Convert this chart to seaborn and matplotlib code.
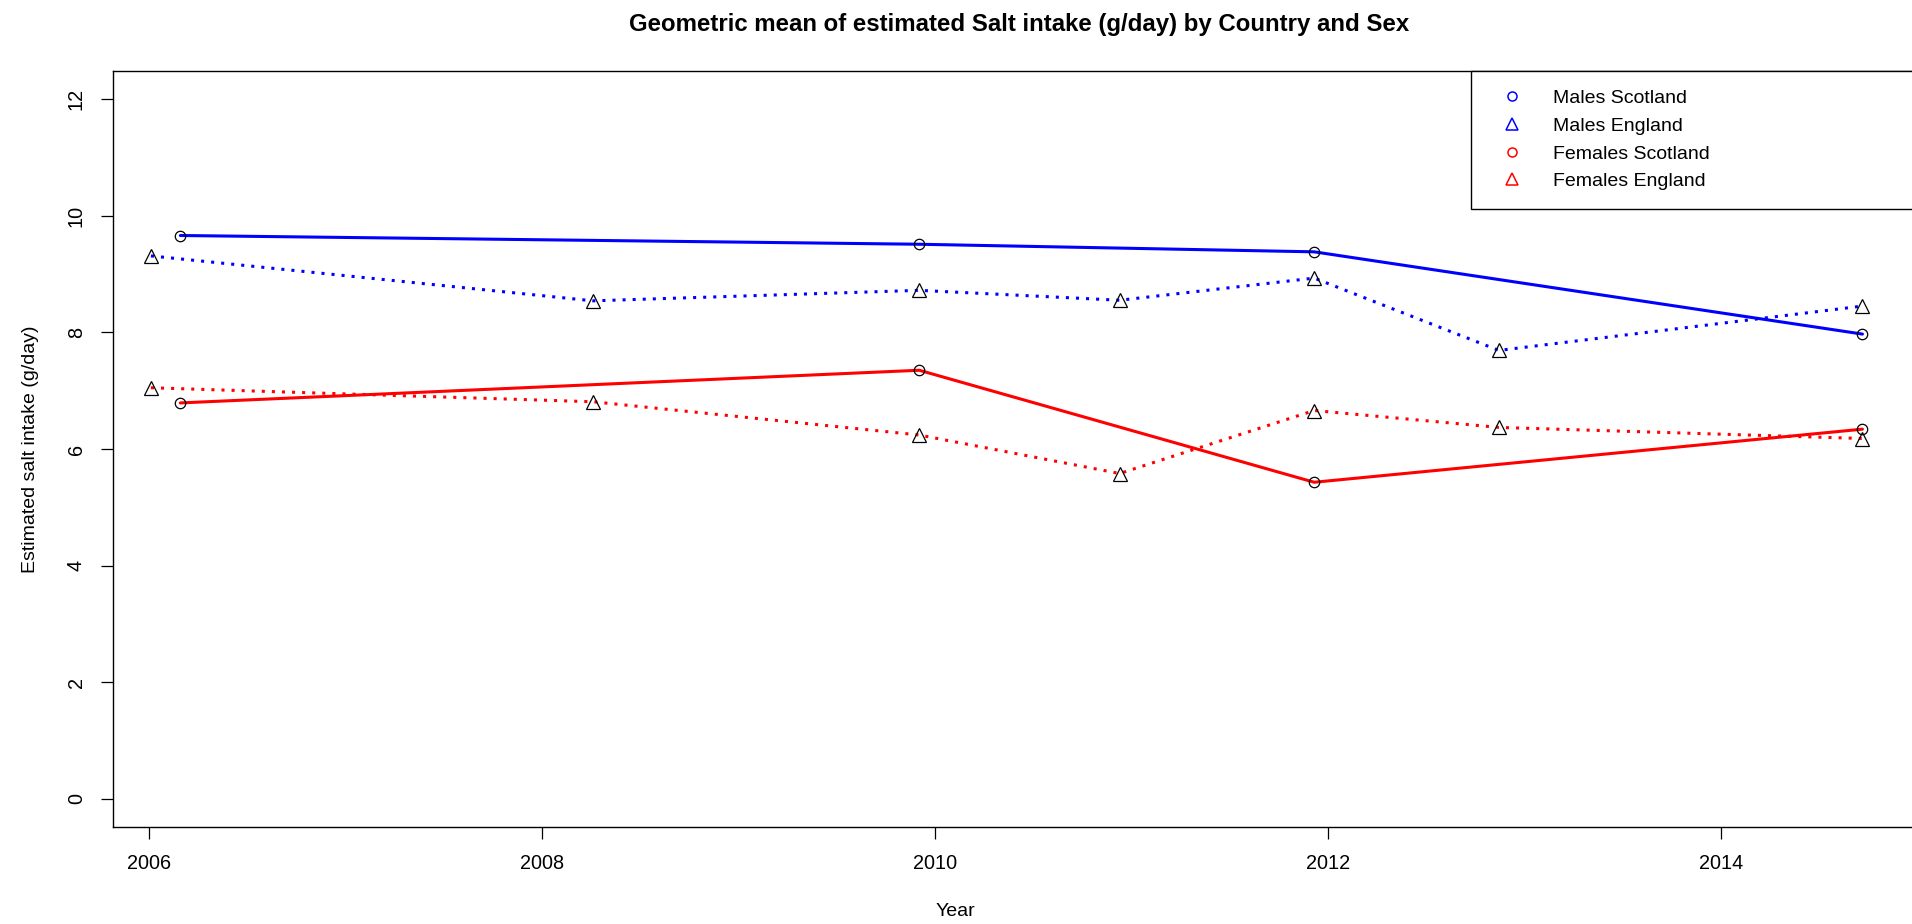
import numpy as np
import pandas as pd
import matplotlib
matplotlib.use("Agg")
import matplotlib.pyplot as plt
import seaborn as sns
from matplotlib.lines import Line2D

# ---------------- data ----------------
years_scotland = [2006.16, 2009.92, 2011.93, 2014.72]
years_england = [2006.01, 2008.26, 2009.92, 2010.94, 2011.93, 2012.87, 2014.72]
males_scotland = [9.66, 9.51, 9.38, 7.97]
females_scotland = [6.79, 7.35, 5.43, 6.34]
males_england = [9.31, 8.54, 8.72, 8.55, 8.93, 7.69, 8.45]
females_england = [7.05, 6.81, 6.24, 5.58, 6.66, 6.37, 6.18]
series_labels = ["Males Scotland", "Males England", "Females Scotland", "Females England"]
x_ticks = [2006, 2008, 2010, 2012, 2014]
y_ticks = [0, 2, 4, 6, 8, 10, 12]
title = "Geometric mean of estimated Salt intake (g/day) by Country and Sex"
x_label = "Year"
y_label = "Estimated salt intake (g/day)"

frames = []
for lab, xs, ys in [
    (series_labels[0], years_scotland, males_scotland),
    (series_labels[1], years_england, males_england),
    (series_labels[2], years_scotland, females_scotland),
    (series_labels[3], years_england, females_england),
]:
    frames.append(pd.DataFrame({"Year": xs, "Salt": ys, "Series": lab}))
df = pd.concat(frames, ignore_index=True)

styles = {
    "Males Scotland": dict(color="#0000FF", ls="-", marker="o"),
    "Males England": dict(color="#0000FF", ls=(0, (1, 2.3)), marker="^"),
    "Females Scotland": dict(color="#FF0000", ls="-", marker="o"),
    "Females England": dict(color="#FF0000", ls=(0, (1, 2.3)), marker="^"),
}

# ---------------- figure ----------------
sns.set_theme(style="white")
plt.rcParams["font.family"] = ["Liberation Sans", "DejaVu Sans"]

W, H = 1912, 924
fig = plt.figure(figsize=(W / 100, H / 100), dpi=100)
ax_left, ax_right, ax_top, ax_bottom = 113, 1925, 71, 827
ax = fig.add_axes([ax_left / W, (H - ax_bottom) / H, (ax_right - ax_left) / W, (ax_bottom - ax_top) / H])

for lab in series_labels:
    st = styles[lab]
    sub = df[df["Series"] == lab]
    ms = 7.5 if st["marker"] == "o" else 9.5
    sns.lineplot(data=sub, x="Year", y="Salt", ax=ax, color=st["color"], linestyle=st["ls"],
                 linewidth=2.2, marker=st["marker"], markersize=ms, markerfacecolor="none",
                 markeredgecolor="black", markeredgewidth=0.9, estimator=None, sort=False,
                 legend=False)

ax.set_xlim(2005.817, 2005.817 + (ax_right - ax_left) / 196.5)
ax.set_ylim(-0.48, 12.48)
ax.set_xticks(x_ticks)
ax.set_xticklabels([str(t) for t in x_ticks])
ax.set_yticks(y_ticks)
ax.set_yticklabels([str(t) for t in y_ticks], rotation=90, va="center")

for s in ax.spines.values():
    s.set_color("black")
    s.set_linewidth(1.0)
ax.tick_params(axis="both", direction="out", length=8.6, width=0.9, color="black",
               labelsize=14.3, labelcolor="black", pad=11, bottom=True, left=True)

ax.set_xlabel(x_label, fontsize=14, color="black")
ax.set_ylabel(y_label, fontsize=14, color="black")
ax.xaxis.set_label_coords((955 - ax_left) / (ax_right - ax_left), -(911 - ax_bottom) / (ax_bottom - ax_top))
ax.xaxis.label.set_va("center")
ax.yaxis.set_label_coords(-(ax_left - 30) / (ax_right - ax_left), (ax_bottom - 449) / (ax_bottom - ax_top))
ax.yaxis.label.set_va("center")

fig.text((ax_left + ax_right) / 2 / W, 1 - 25 / H, title, ha="center", va="center",
         fontsize=17.3, fontweight="bold", color="black")

# legend (markers only, coloured)
handles = []
for lab in series_labels:
    st = styles[lab]
    handles.append(Line2D([], [], linestyle="none", marker=st["marker"],
                          markersize=6.5 if st["marker"] == "o" else 9,
                          markerfacecolor="none", markeredgecolor=st["color"], markeredgewidth=1.1))
leg_x0 = (1471 - ax_left) / (ax_right - ax_left)
leg = ax.legend(handles, series_labels, loc="upper right",
                bbox_to_anchor=(leg_x0, 0, 1 - leg_x0, 1), mode="expand", borderaxespad=0,
                fontsize=14, frameon=True, fancybox=False, handlelength=2.35,
                handletextpad=0.92, borderpad=0.95, labelspacing=0.52, labelcolor="black")
leg.get_frame().set_edgecolor("black")
leg.get_frame().set_linewidth(1.0)
leg.get_frame().set_alpha(1)

fig.savefig("out.png", dpi=100, facecolor="white")
